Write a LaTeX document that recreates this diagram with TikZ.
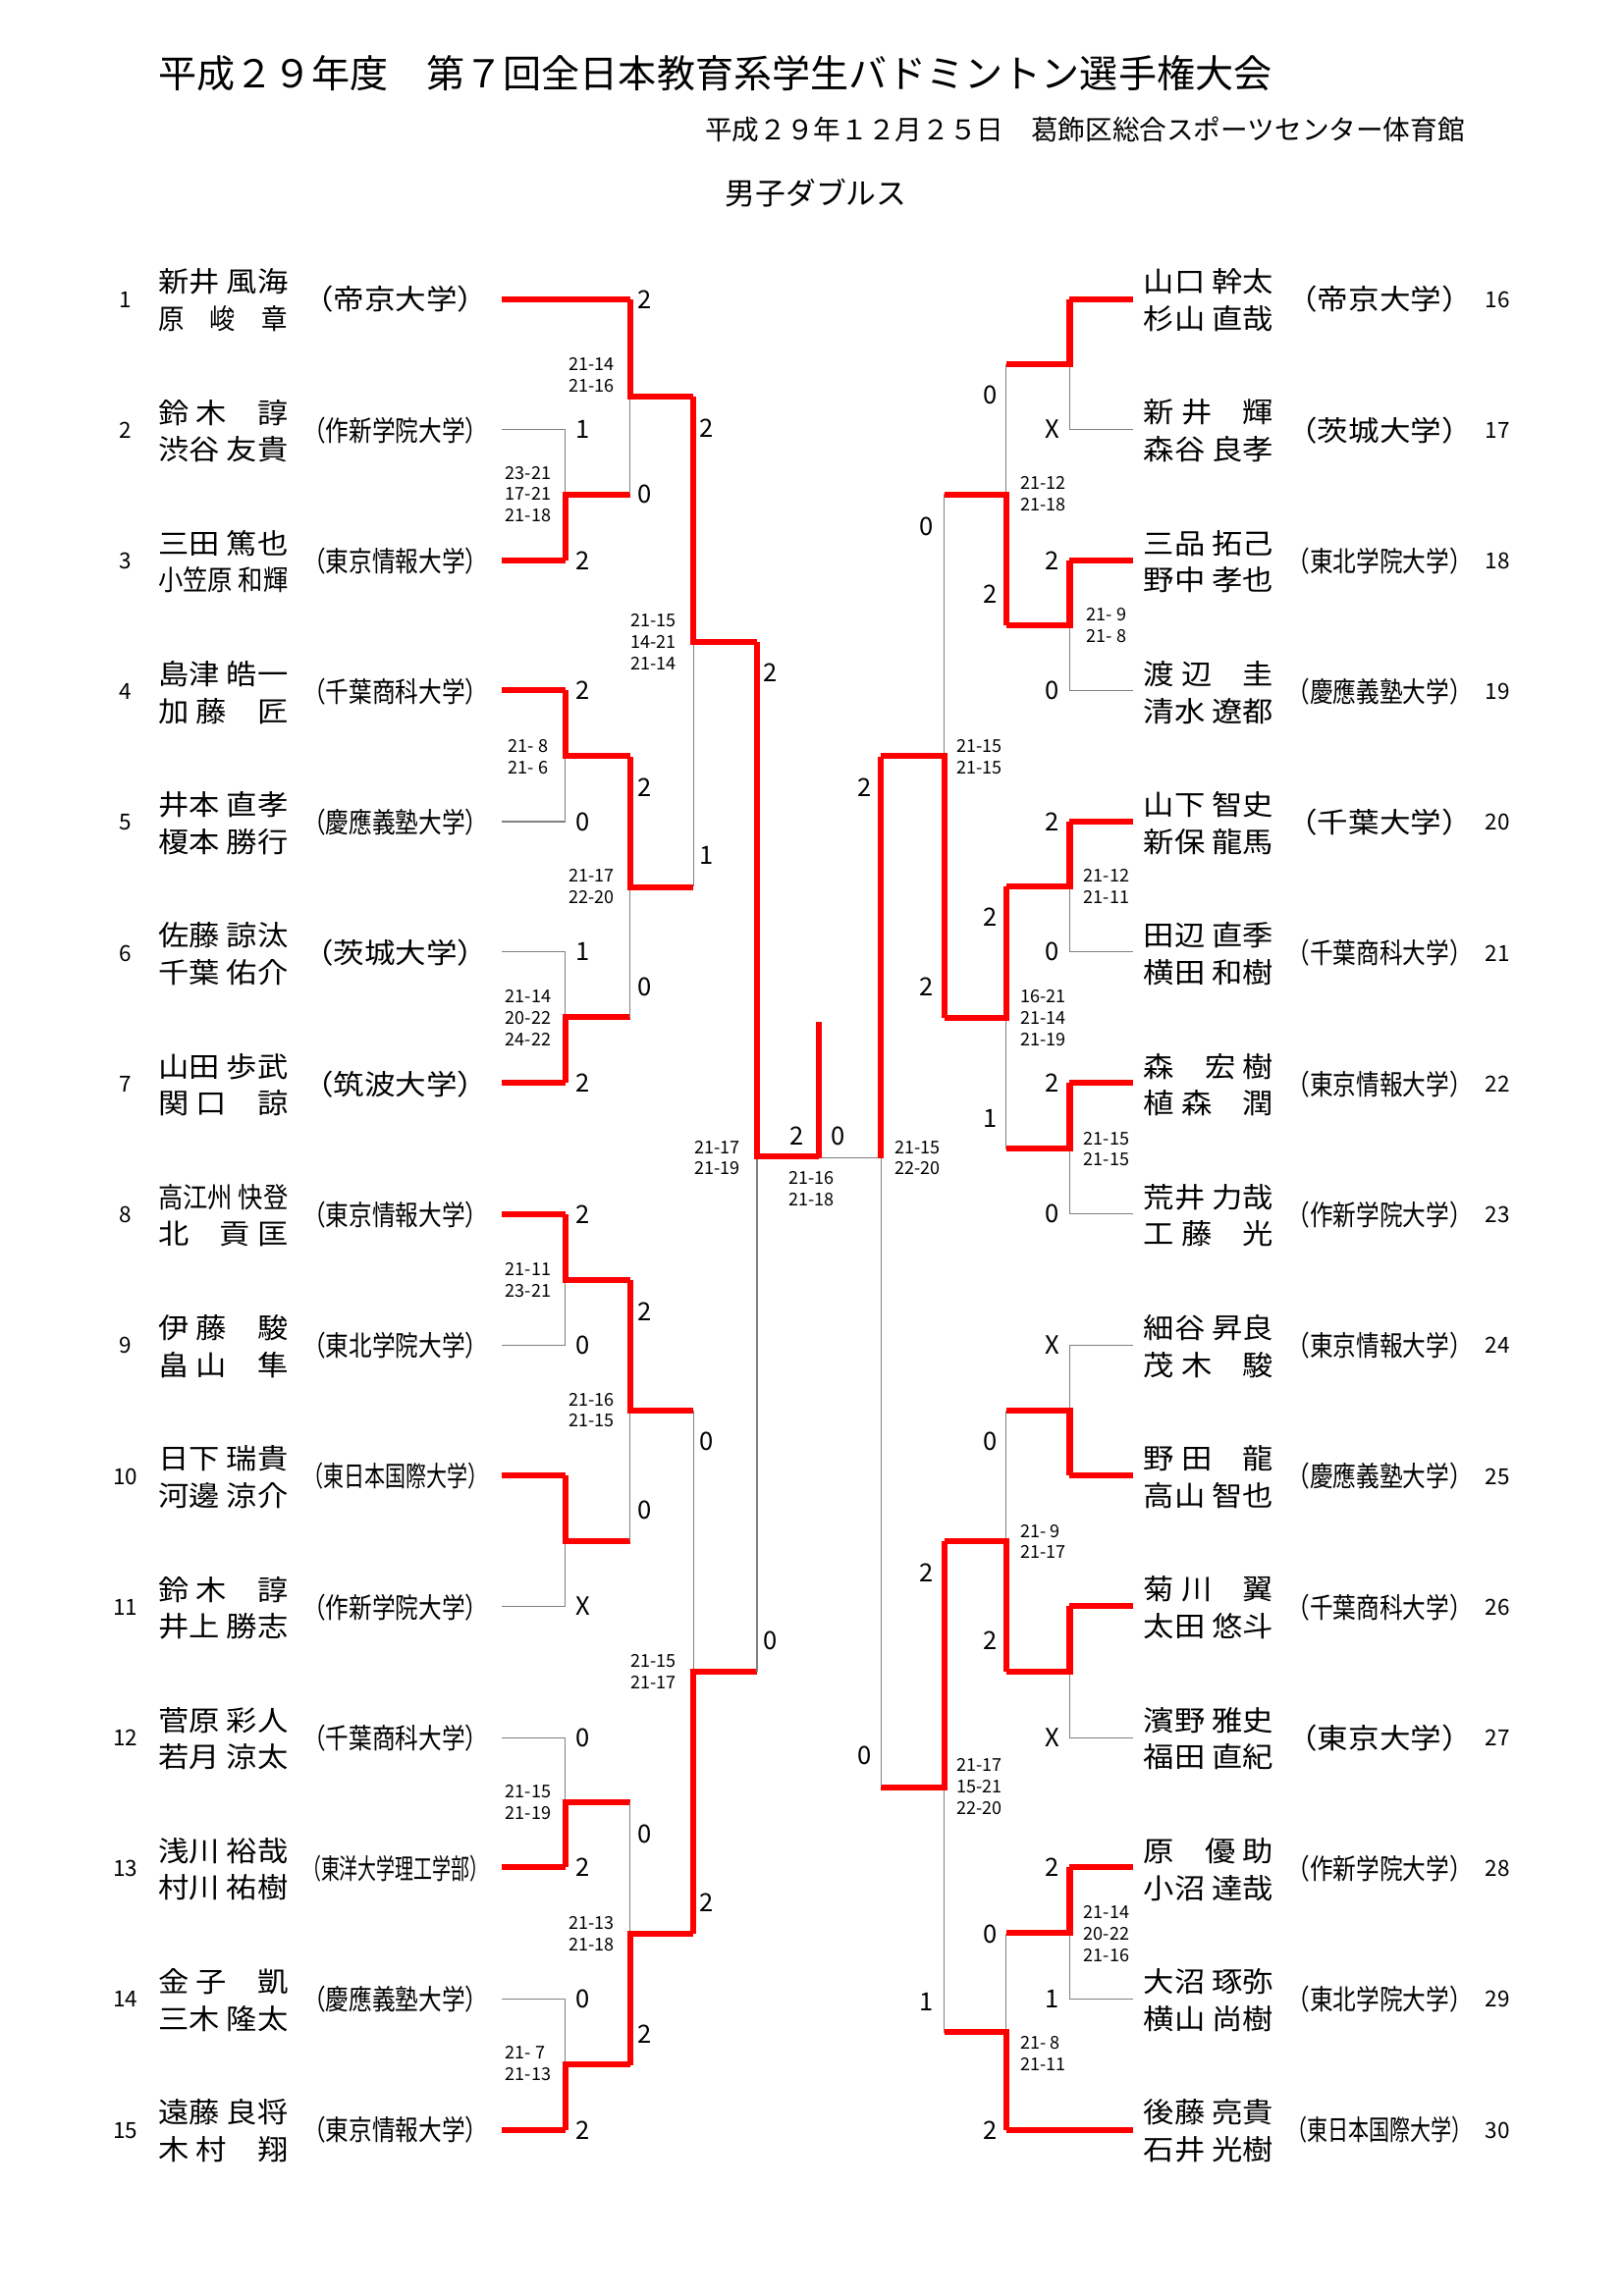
\documentclass[tikz,border=0pt]{standalone}
\usepackage{fontspec}
\setmainfont{Noto Sans CJK JP}
\usepackage{graphicx}
\usetikzlibrary{positioning}

% one match: vertical at #1 from #2 to #3, out to #4, winner t/b
\newcommand\match[5]{%
  \pgfmathsetmacro\ym{(#2+#3)/2}%
  \if#5t
    \draw[lose] (#1,\ym) -- (#1,#3);
    \draw[win] (#1,#2) -- (#1,\ym) -- (#4,\ym);
  \else
    \draw[lose] (#1,\ym) -- (#1,#2);
    \draw[win] (#1,#3) -- (#1,\ym) -- (#4,\ym);
  \fi}
\newcommand\nm[1]{\resizebox{88pt}{\height}{#1}}
\newcommand\uni[1]{\resizebox{126pt}{\height}{（#1）}}

\begin{document}
\begin{tikzpicture}[x=1pt,y=-1pt]
    \tikzset{
      win/.style={red, line width=4pt, line join=miter},
      lose/.style={gray, line width=0.8pt},
      pname/.style={anchor=west, inner sep=0pt, font=\fontsize{19}{19}\selectfont},
      puni/.style={inner sep=0pt, font=\fontsize{19}{19}\selectfont},
      pnum/.style={inner sep=0pt, font=\fontsize{15}{15}\selectfont},
      gcount/.style={inner sep=0pt, font=\fontsize{17}{17}\selectfont},
      score/.style={inner sep=0pt, align=left, font=\fontsize{12}{14.5}\selectfont}
    }
    \useasboundingbox[fill=white] (0,0) rectangle (1100,1556.5);

    % headings
    \node[anchor=west, inner sep=0pt, font=\fontsize{26}{26}\selectfont] (title) at (107,50)
      {平成２９年度　第７回全日本教育系学生バドミントン選手権大会};
    \node[anchor=east, inner sep=0pt, font=\fontsize{18.4}{18}\selectfont] (date) at (993,88)
      {平成２９年１２月２５日　葛飾区総合スポーツセンター体育館};
    \node[inner sep=0pt, font=\fontsize{20.5}{20}\selectfont] (event) at (553,131) {男子ダブルス};

    % left entries
    \foreach \n/\a/\b/\u in {1/新井 風海/原　峻　章/帝京大学, 2/鈴 木　諄/渋谷 友貴/作新学院大学,
      3/三田 篤也/小笠原 和輝/東京情報大学, 4/島津 皓一/加 藤　匠/千葉商科大学,
      5/井本 直孝/榎本 勝行/慶應義塾大学, 6/佐藤 諒汰/千葉 佑介/茨城大学,
      7/山田 歩武/関 口　諒/筑波大学, 8/高江州 快登/北　貢 匡/東京情報大学,
      9/伊 藤　駿/畠 山　隼/東北学院大学, 10/日下 瑞貴/河邊 涼介/東日本国際大学,
      11/鈴 木　諄/井上 勝志/作新学院大学, 12/菅原 彩人/若月 涼太/千葉商科大学,
      13/浅川 裕哉/村川 祐樹/東洋大学理工学部, 14/金 子　凱/三木 隆太/慶應義塾大学,
      15/遠藤 良将/木 村　翔/東京情報大学} {
        \pgfmathsetmacro\yy{203+(\n-1)*88.65}
        \node[pnum] (ln\n) at (85,\yy) {\n};
        \node[pname] (la\n) at (107,\yy-12) {\nm{\a}};
        \node[pname] (lb\n) at (107,\yy+13) {\nm{\b}};
        \node[puni] (lu\n) at (268,\yy) {\uni{\u}};
    }
    % right entries
    \foreach \n/\a/\b/\u in {16/山口 幹太/杉山 直哉/帝京大学, 17/新 井　輝/森谷 良孝/茨城大学,
      18/三品 拓己/野中 孝也/東北学院大学, 19/渡 辺　圭/清水 遼都/慶應義塾大学,
      20/山下 智史/新保 龍馬/千葉大学, 21/田辺 直季/横田 和樹/千葉商科大学,
      22/森　宏 樹/植 森　潤/東京情報大学, 23/荒井 力哉/工 藤　光/作新学院大学,
      24/細谷 昇良/茂 木　駿/東京情報大学, 25/野 田　龍/高山 智也/慶應義塾大学,
      26/菊 川　翼/太田 悠斗/千葉商科大学, 27/濱野 雅史/福田 直紀/東京大学,
      28/原　優 助/小沼 達哉/作新学院大学, 29/大沼 琢弥/横山 尚樹/東北学院大学,
      30/後藤 亮貴/石井 光樹/東日本国際大学} {
        \pgfmathsetmacro\yy{203+(\n-16)*88.65}
        \node[pnum] (rn\n) at (1015,\yy) {\n};
        \node[pname] (ra\n) at (775,\yy-12) {\nm{\a}};
        \node[pname] (rb\n) at (775,\yy+13) {\nm{\b}};
        \node[puni] (ru\n) at (935,\yy) {\uni{\u}};
    }

    % first-round lines
    \foreach \y in {291,557,645,912,1089,1178,1355} \draw[lose] (340,\y) -- (383,\y);
    \foreach \y in {380,468,734,823,1000,1266,1444} \draw[win] (340,\y) -- (383,\y);
    \draw[win] (340,203) -- (427,203);
    \foreach \y in {291,468,645,823,912,1178,1355} \draw[lose] (725,\y) -- (768,\y);
    \foreach \y in {203,380,557,734,1000,1089,1266} \draw[win] (725,\y) -- (768,\y);
    \draw[win] (682,1444) -- (768,1444);

    % matches
    \foreach \a/\b/\c/\d/\e in {383/291/380/427/b, 427/203/335/470/t, 383/468/557/427/t,
      383/645/734/427/b, 427/513/690/470/t, 470/269/601/513/t, 383/823/912/427/t,
      383/1000/1089/427/t, 427/868/1045/470/t, 383/1178/1266/427/b, 383/1355/1444/427/b,
      427/1222/1400/470/b, 470/956/1311/513/b, 513/435/1133/555/t,
      725/203/291/682/t, 725/380/468/682/t, 682/247/424/640/b, 725/557/645/682/t,
      725/734/823/682/t, 682/601/779/640/t, 640/335/690/597/b, 725/912/1000/682/b,
      725/1089/1178/682/t, 682/956/1133/640/b, 725/1266/1355/682/t, 682/1311/1444/640/b,
      640/1045/1378/597/t} {\match{\a}{\b}{\c}{\d}{\e}}

    % final
    \draw[lose] (597,785) -- (597,1211);
    \draw[lose] (597,785) -- (555,785);
    \draw[win] (597,513) -- (597,785);
    \draw[win] (555,693) -- (555,785);

    % game counts
    \foreach \x/\y/\t [count=\i] in {437/203/2, 395/291/1, 437/335/0, 395/380/2, 479/290/2,
      395/468/2, 437/534/2, 395/557/0, 479/580/1, 395/645/1, 437/669/0, 395/734/2, 522/456/2,
      395/823/2, 437/889/2, 395/912/0, 479/977/0, 437/1024/0, 395/1089/X, 522/1112/0,
      395/1178/0, 437/1243/0, 395/1266/2, 479/1290/2, 395/1355/0, 437/1379/2, 395/1444/2,
      540/770/2, 568/770/0,
      671/268/0, 713/291/X, 628/357/0, 713/380/2, 671/403/2, 713/468/0, 586/534/2, 713/557/2,
      671/622/2, 713/645/0, 628/669/2, 713/734/2, 671/758/1, 713/823/0, 713/912/X, 671/977/0,
      671/1112/2, 713/1178/X, 628/1066/2, 586/1190/0, 713/1266/2, 671/1311/0, 713/1355/1,
      628/1357/1, 671/1444/2}
      \node[gcount] (g\i) at (\x,\y) {\t};

    % game scores
    \foreach \x/\y/\t [count=\i] in {358/335/{23-21\\17-21\\21-18}, 401/254/{21-14\\21-16},
      358/513/{21-~8\\21-~6}, 358/690/{21-14\\20-22\\24-22}, 401/601/{21-17\\22-20},
      443/435/{21-15\\14-21\\21-14}, 358/868/{21-11\\23-21}, 401/956/{21-16\\21-15},
      358/1222/{21-15\\21-19}, 358/1399/{21-~7\\21-13}, 401/1311/{21-13\\21-18},
      443/1133/{21-15\\21-17}, 486/785/{21-17\\21-19}, 550/806/{21-16\\21-18},
      750/424/{21-~9\\21-~8}, 707/335/{21-12\\21-18}, 750/601/{21-12\\21-11},
      750/779/{21-15\\21-15}, 707/690/{16-21\\21-14\\21-19}, 664/513/{21-15\\21-15},
      707/1045/{21-~9\\21-17}, 750/1311/{21-14\\20-22\\21-16}, 707/1392/{21-~8\\21-11},
      664/1211/{21-17\\15-21\\22-20}, 622/785/{21-15\\22-20}}
      \node[score] (s\i) at (\x,\y) {\t};
\end{tikzpicture}
\end{document}
